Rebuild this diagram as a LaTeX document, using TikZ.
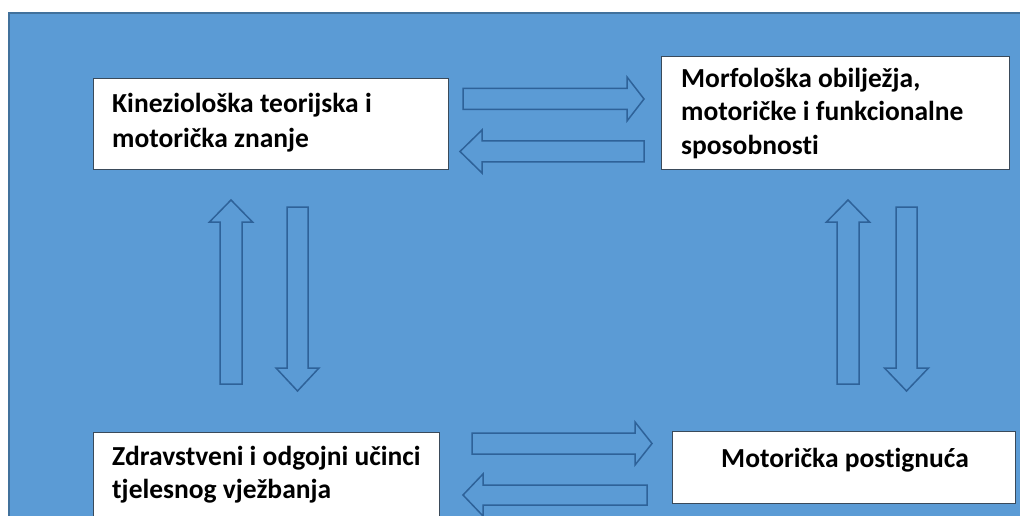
\documentclass[tikz,border=0pt]{standalone}
\usepackage{fontspec}
\setmainfont[Ligatures={NoCommon}]{Carlito}
\definecolor{bgblue}{HTML}{5B9BD5}
\definecolor{bgedge}{HTML}{41719C}
\definecolor{arrowline}{HTML}{2E6299}
\definecolor{boxline}{HTML}{3A4A5A}
\begin{document}
\begin{tikzpicture}[x=1pt,y=-1pt,
  box/.style={draw=boxline, line width=1pt, fill=white, rectangle, inner sep=0pt, anchor=north west},
  txt/.style={font=\fontsize{27.5}{33}\selectfont\bfseries, text=black, inner sep=0pt},
  blockarrow/.style={draw=arrowline, line width=1.5pt, fill=bgblue, line join=miter}]
\useasboundingbox (0,0) rectangle (1020,516);
\clip (0,0) rectangle (1020,516);
\fill[white] (0,0) rectangle (1020,516);
\fill[bgblue] (9,13) rectangle (1030,530);
\draw[bgedge, line width=1.5pt] (9,530) -- (9,13) -- (1030,13);

% boxes
\node[box, minimum width=355pt, minimum height=91pt] (b1) at (93,78) {};
\node[box, minimum width=348pt, minimum height=113pt] (b2) at (661,56) {};
\node[box, minimum width=346pt, minimum height=110pt] (b3) at (93,432) {};
\node[box, minimum width=343pt, minimum height=72pt] (b4) at (672,431) {};

% texts
\node[txt, anchor=base west] (t1a) at (112,113) {Kineziološka teorijska i};
\node[txt, anchor=base west] (t1b) at (112,148) {motorička znanje};
\node[txt, anchor=base west] (t2a) at (681,88) {Morfološka obilježja,};
\node[txt, anchor=base west] (t2b) at (681,121) {motoričke i funkcionalne};
\node[txt, anchor=base west] (t2c) at (681,154) {sposobnosti};
\node[txt, anchor=base west] (t3a) at (112,465) {Zdravstveni i odgojni učinci};
\node[txt, anchor=base west] (t3b) at (112,498) {tjelesnog vježbanja};
\node[txt, anchor=base] (t4a) at (845,467) {Motorička postignuća};

% horizontal block arrows (top)
\draw[blockarrow] (463,88.5) -- (627,88.5) -- (627,77) -- (644,99) -- (627,121) -- (627,109.5) -- (463,109.5) -- cycle;
\draw[blockarrow] (644,141) -- (482,141) -- (482,130) -- (460,151.5) -- (482,173) -- (482,162) -- (644,162) -- cycle;
% horizontal block arrows (bottom)
\draw[blockarrow] (472,433) -- (635,433) -- (635,422) -- (652,443.5) -- (635,465) -- (635,454) -- (472,454) -- cycle;
\draw[blockarrow] (647,485) -- (483,485) -- (483,474) -- (463,495) -- (483,516) -- (483,505) -- (647,505) -- cycle;
% vertical block arrows (left)
\draw[blockarrow] (220,384) -- (220,222) -- (209.5,222) -- (231,200) -- (252.5,222) -- (242,222) -- (242,384) -- cycle;
\draw[blockarrow] (287,207) -- (287,368) -- (276,368) -- (297.5,391) -- (319,368) -- (308,368) -- (308,207) -- cycle;
% vertical block arrows (right)
\draw[blockarrow] (837,384) -- (837,222) -- (826.5,222) -- (848,200) -- (869.5,222) -- (859,222) -- (859,384) -- cycle;
\draw[blockarrow] (896,207) -- (896,368) -- (884.5,368) -- (906.5,391) -- (928.5,368) -- (917,368) -- (917,207) -- cycle;
\end{tikzpicture}
\end{document}
